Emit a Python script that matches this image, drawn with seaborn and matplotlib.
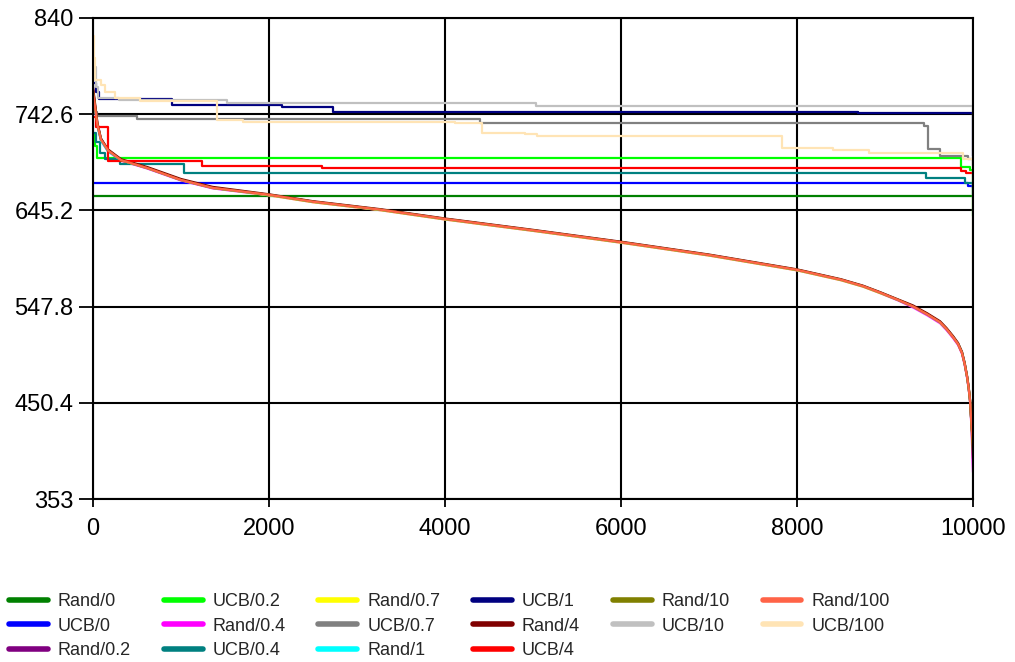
import matplotlib
matplotlib.use("Agg")
import matplotlib.pyplot as plt
import pandas as pd
import seaborn as sns

# Series in legend / drawing order
SERIES = ["Rand/0", "UCB/0", "Rand/0.2", "UCB/0.2", "Rand/0.4", "UCB/0.4",
          "Rand/0.7", "UCB/0.7", "Rand/1", "UCB/1", "Rand/4", "UCB/4",
          "Rand/10", "UCB/10", "Rand/100", "UCB/100"]

COLORS = ["#008000", "#0000FF", "#800080", "#00FF00", "#FF00FF", "#008080",
          "#FFFF00", "#808080", "#00FFFF", "#000080", "#800000", "#FF0000",
          "#808000", "#C0C0C0", "#FF6347", "#FFE4B5"]

# Shared x positions of the smooth Rand curves
RAND_X = [0, 20, 50, 90, 170, 320, 620, 1000, 1360, 2000, 2500, 3260, 4000,
          5000, 6000, 7000, 8000, 8500, 8750, 8943, 9150, 9318, 9480, 9625,
          9700, 9773, 9830, 9875, 9905, 9932, 9950, 9966, 9975, 9985, 9992,
          10000]

rand_02 = [768, 754, 733, 718, 706, 696, 688, 676, 668, 661, 654, 646, 636.5,
           625, 613, 600, 585, 575, 568.5, 562, 554.5, 548, 540, 532, 525,
           517, 510, 501, 490, 477, 466, 453, 440, 426, 419, 411]
rand_04 = [762, 750, 731, 716, 705, 695.5, 687.5, 675.5, 667.5, 660.5, 653.5,
           645.5, 636, 624.5, 612.5, 599.5, 584.5, 574.5, 568, 561.5, 554,
           547, 539, 531, 524, 516, 509, 500, 489, 476, 465, 452, 438, 420,
           400, 380]
rand_07 = [766, 753, 732, 717, 706, 696, 688, 676, 668, 660.5, 653.5, 645.5,
           636, 624.5, 612.5, 599.5, 584.5, 574.5, 568, 561.5, 554.5, 548,
           540, 532, 525, 517, 510, 501, 490, 477, 466, 453, 440, 425, 418,
           410]
rand_1 = [764, 751, 731, 716, 705, 696, 688, 676, 668, 661, 654, 646, 636.5,
          625, 613, 600, 585, 575, 568.5, 562, 554.5, 548, 540, 532, 525,
          517.5, 510.5, 501.5, 490.5, 477, 466, 453, 440, 425, 418, 411]
rand_4 = [770, 756, 734, 718, 707, 697, 689, 677, 669, 661.5, 654.5, 646.5,
          637, 625.5, 613.5, 600.5, 585.5, 575.5, 569, 562.5, 555, 549, 541,
          533, 526, 518, 511, 502, 491, 478, 467, 454, 441, 426, 419, 412]
rand_10 = [766, 752, 732, 717, 706, 696, 688, 676, 668, 661, 654, 646, 636.5,
           625, 613, 600, 585, 575, 568.5, 562, 554.5, 548, 540, 532, 525,
           517, 510, 501, 490, 477, 466, 453, 440, 424, 410, 394]
rand_100 = [765, 752, 732, 717, 706, 696, 688, 676, 668, 661, 654, 646, 636.5,
            625, 613, 600, 585, 575, 568.5, 562, 554.5, 548, 540, 532, 525,
            517, 510, 501, 490, 477, 466, 453, 440, 425, 418, 408]

# Step series: (x where each level starts, level)
rand_0_x = [0, 10000]
rand_0_y = [659.8, 659.8]
ucb_0_x = [0, 9943, 10000]
ucb_0_y = [673, 670, 668]
ucb_02_x = [0, 20, 40, 9864, 9966, 10000]
ucb_02_y = [722, 710, 698.3, 689, 686, 640]
ucb_04_x = [0, 34, 80, 136, 307, 1034, 9466, 9909, 10000]
ucb_04_y = [724, 714, 703, 697, 692, 683, 678, 673, 662]
ucb_07_x = [0, 40, 500, 4398, 9443, 9489, 9625, 9943, 10000]
ucb_07_y = [745, 741, 738, 734, 731, 707, 700, 697, 690]
ucb_1_x = [0, 30, 70, 898, 2148, 2727, 8693, 10000]
ucb_1_y = [774, 765, 758, 752, 750, 745, 744, 700]
ucb_4_x = [0, 34, 170, 1239, 2602, 9864, 9920, 10000]
ucb_4_y = [740, 730, 695, 690, 688, 685, 683, 683]
ucb_10_x = [0, 15, 30, 60, 300, 1523, 5034, 10000]
ucb_10_y = [800, 790, 770, 759, 757, 754, 751, 705]
ucb_100_x = [0, 10, 25, 90, 140, 250, 534, 1409, 1705, 4114, 4420, 4909,
             5045, 7830, 8409, 8818, 9886, 10000]
ucb_100_y = [822, 800, 777, 772, 765, 759, 756, 737, 735, 734, 724, 722.6,
             721, 708, 706, 703, 697, 592]

DATA = {
    "Rand/0": (rand_0_x, rand_0_y, True),
    "UCB/0": (ucb_0_x, ucb_0_y, True),
    "Rand/0.2": (RAND_X, rand_02, False),
    "UCB/0.2": (ucb_02_x, ucb_02_y, True),
    "Rand/0.4": (RAND_X, rand_04, False),
    "UCB/0.4": (ucb_04_x, ucb_04_y, True),
    "Rand/0.7": (RAND_X, rand_07, False),
    "UCB/0.7": (ucb_07_x, ucb_07_y, True),
    "Rand/1": (RAND_X, rand_1, False),
    "UCB/1": (ucb_1_x, ucb_1_y, True),
    "Rand/4": (RAND_X, rand_4, False),
    "UCB/4": (ucb_4_x, ucb_4_y, True),
    "Rand/10": (RAND_X, rand_10, False),
    "UCB/10": (ucb_10_x, ucb_10_y, True),
    "Rand/100": (RAND_X, rand_100, False),
    "UCB/100": (ucb_100_x, ucb_100_y, True),
}

Y_TICKS = [353, 450.4, 547.8, 645.2, 742.6, 840]
Y_TICK_LABELS = ["353", "450.4", "547.8", "645.2", "742.6", "840"]
X_TICKS = [0, 2000, 4000, 6000, 8000, 10000]
X_TICK_LABELS = ["0", "2000", "4000", "6000", "8000", "10000"]

sns.set_theme(style="white")
plt.rcParams["font.family"] = ["Liberation Sans", "DejaVu Sans"]

W, H = 1015, 662
fig = plt.figure(figsize=(W / 100, H / 100), dpi=100)
ax = fig.add_axes([93 / W, 1 - 499 / H, 880 / W, 481 / H])

handles = []
for name, color in zip(SERIES, COLORS):
    xs, ys, stepped = DATA[name]
    df = pd.DataFrame({"x": xs, "y": ys})
    sns.lineplot(data=df, x="x", y="y", ax=ax, color=color, linewidth=1.6,
                 estimator=None, sort=False, legend=False,
                 drawstyle="steps-post" if stepped else "default")
    line = ax.lines[-1]
    line.set_label(name)
    handles.append(line)

ax.set_xlim(0, 10000)
ax.set_ylim(353, 840)
ax.set_xticks(X_TICKS)
ax.set_xticklabels(X_TICK_LABELS)
ax.set_yticks(Y_TICKS)
ax.set_yticklabels(Y_TICK_LABELS)
ax.set_xlabel("")
ax.set_ylabel("")
ax.grid(True, color="black", linewidth=1.5)
ax.set_axisbelow(True)
for sp in ax.spines.values():
    sp.set_visible(True)
    sp.set_color("black")
    sp.set_linewidth(1.5)
ax.tick_params(axis="y", direction="out", length=10, width=1.3, color="black",
               labelsize=17, pad=4, labelcolor="black", left=True)
ax.tick_params(axis="x", direction="out", length=6, width=1.3, color="black",
               labelsize=17, pad=8, labelcolor="black", bottom=True)

leg = fig.legend(handles=handles, labels=SERIES, ncol=6, loc="upper left",
                 bbox_to_anchor=(9 / W, 1 - 593 / H), frameon=False,
                 fontsize=13, handlelength=2.15, handletextpad=0.55,
                 columnspacing=1.82, labelspacing=0.42, borderaxespad=0,
                 borderpad=0)
for h in leg.legend_handles:
    h.set_linewidth(4)

fig.savefig("out.png", dpi=100)
